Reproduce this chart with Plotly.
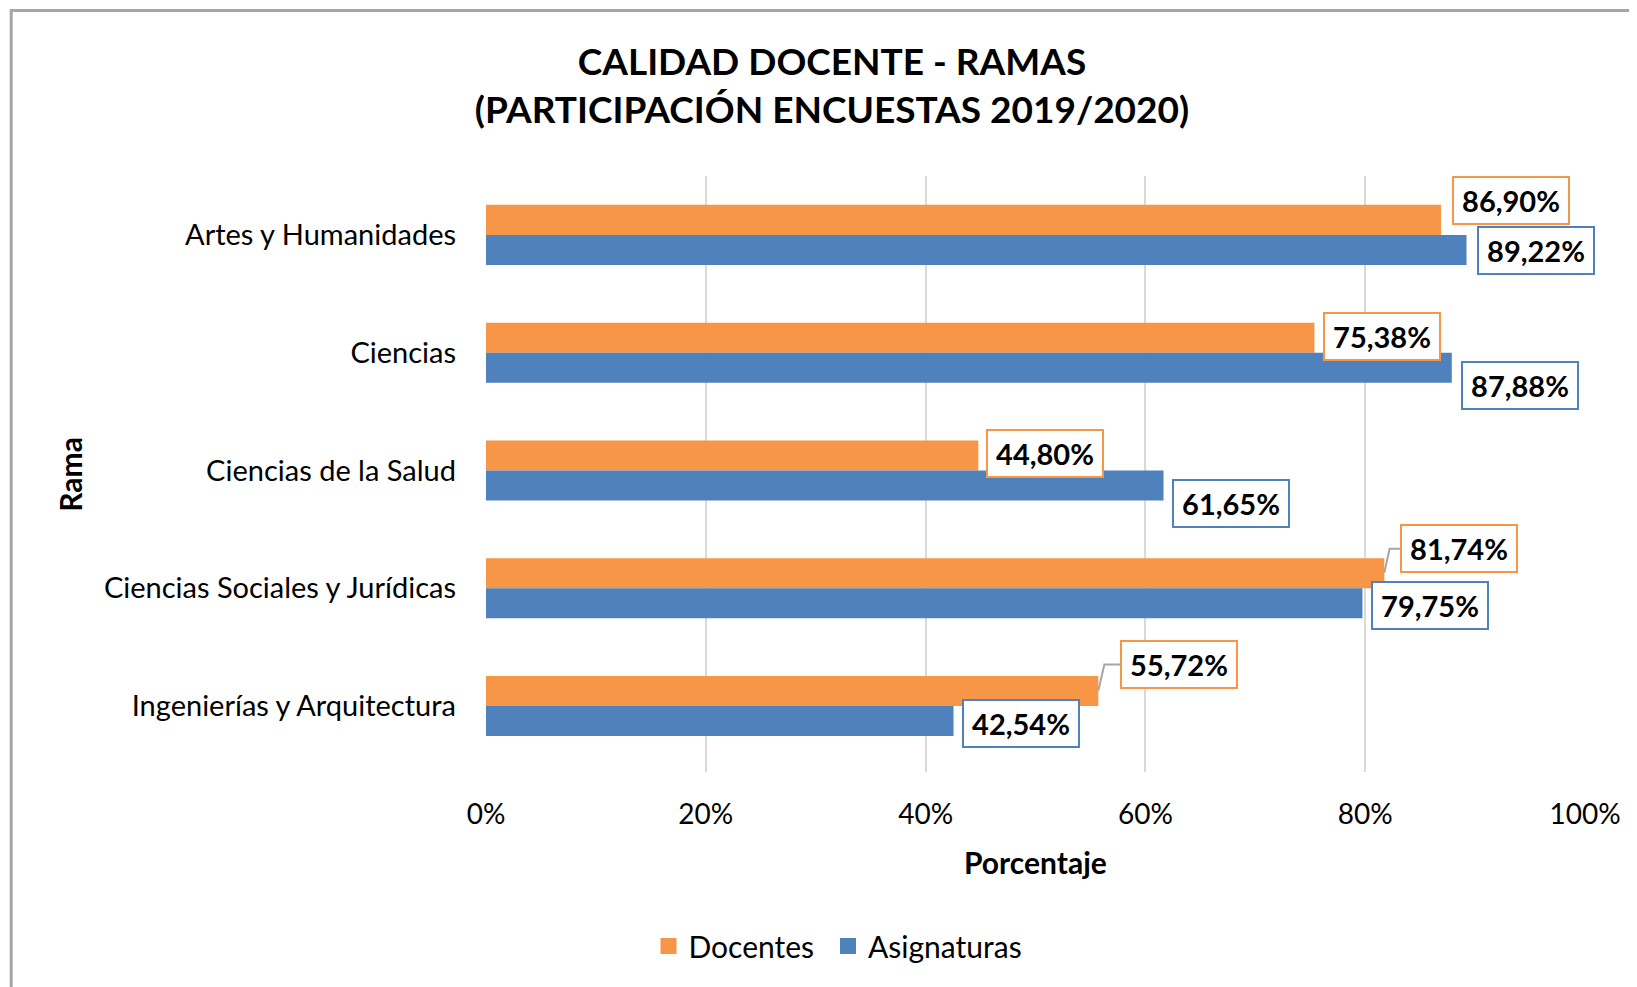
import plotly.graph_objects as go

# ---- data ----
categories = ["Artes y Humanidades", "Ciencias", "Ciencias de la Salud",
              "Ciencias Sociales y Jurídicas", "Ingenierías y Arquitectura"]
docentes = [86.90, 75.38, 44.80, 81.74, 55.72]
asignaturas = [89.22, 87.88, 61.65, 79.75, 42.54]
x_ticks = [0, 20, 40, 60, 80, 100]

title_text = "<b>CALIDAD DOCENTE - RAMAS<br>(PARTICIPACIÓN ENCUESTAS 2019/2020)</b>"

# ---- style ----
ORANGE = "#F79646"
BLUE = "#4F81BD"
FONT = "Lato"
W, H = 1629, 979                    # page has an 8px body margin
L, R, T, B = 477.5, 1577, 168, 764  # plot area in figure pixels
BAR_OFF = 15.5                      # px from category centre to bar centre

# label placement (screen px): dy relative to bar centre (down +), dx gap from bar end
doc_dy = [-19, -1, -1, -24, -26]
doc_dx = [11, 9, 8, 16, 22]
doc_leader = [False, False, False, True, True]
asg_dy = [0, 17, 18, 2, 2]
asg_dx = [10, 9, 8, 9, 8]


def fmt(v):
    return f"{v:.2f}".replace(".", ",") + "%"


fig = go.Figure()
fig.add_trace(go.Bar(name="Docentes", y=categories, x=docentes, orientation="h",
                     marker=dict(color=ORANGE, line=dict(width=0)), showlegend=False))
fig.add_trace(go.Bar(name="Asignaturas", y=categories, x=asignaturas, orientation="h",
                     marker=dict(color=BLUE, line=dict(width=0)), showlegend=False))
# legend entries with larger square swatches (one legend box each, for exact placement)
for name, col, lg in [("Docentes", ORANGE, "legend"), ("Asignaturas", BLUE, "legend2")]:
    fig.add_trace(go.Scatter(name=name, x=[None], y=[None], mode="markers",
                             marker=dict(symbol="square", size=16, color=col),
                             showlegend=True, hoverinfo="skip", legend=lg))

annotations = []
shapes = []


def add_label(cat, val, dy, dx, color, bar_off, leader):
    annotations.append(dict(
        x=val, y=cat, xref="x", yref="y", xanchor="left", yanchor="middle",
        xshift=dx, yshift=-(bar_off + dy), showarrow=False,
        text=f"<b>{fmt(val)}</b>", font=dict(family=FONT, size=29, color="#000"),
        bgcolor="white", bordercolor=color, borderwidth=2, borderpad=0,
        width=114, height=45, align="center", valign="middle"))
    if leader:
        y0 = -bar_off
        y1 = -(bar_off + dy)
        shapes.append(dict(
            type="path", xref="x", yref="y", xsizemode="pixel", ysizemode="pixel",
            xanchor=val, yanchor=cat,
            path=f"M0,{y0} L{min(6, dx/3):.1f},{y1} L{dx},{y1}",
            line=dict(color="#A6A6A6", width=2)))


for i, c in enumerate(categories):
    add_label(c, docentes[i], doc_dy[i], doc_dx[i], ORANGE, -BAR_OFF, doc_leader[i])
    add_label(c, asignaturas[i], asg_dy[i], asg_dx[i], BLUE, BAR_OFF, False)

# axis titles
pw, ph = R - L, B - T
annotations.append(dict(text="<b>Porcentaje</b>", xref="paper", yref="paper",
                        x=0.5, y=(B - 854) / ph, showarrow=False,
                        font=dict(family=FONT, size=30, color="#000"),
                        xanchor="center", yanchor="middle"))
annotations.append(dict(text="<b>Rama</b>", xref="paper", yref="paper",
                        x=(61 - L) / pw, y=(B - 466) / ph, showarrow=False, textangle=-90,
                        font=dict(family=FONT, size=30, color="#000"),
                        xanchor="center", yanchor="middle"))

# outer chart border
shapes.append(dict(type="rect", xref="paper", yref="paper",
                   x0=(2.5 - L) / pw, x1=(W + 20 - L) / pw,
                   y0=(B - (H + 20)) / ph, y1=(B - 2.5) / ph,
                   line=dict(color="#A6A6A6", width=3), layer="below"))

legend_common = dict(orientation="h", xref="container", xanchor="left",
                     y=1 - 938 / H, yref="container", yanchor="middle",
                     font=dict(family=FONT, size=30, color="#000"),
                     itemwidth=30, itemsizing="trace", bgcolor="rgba(0,0,0,0)")

fig.update_layout(
    width=W, height=H,
    margin=dict(l=L, r=W - R, t=T, b=H - B, autoexpand=False),
    paper_bgcolor="white", plot_bgcolor="white",
    barmode="group", bargap=0.49, bargroupgap=0,
    title=dict(text=title_text, x=824 / W, xanchor="center", y=1 - 67 / H, yanchor="middle",
               font=dict(family=FONT, size=37, color="#000")),
    font=dict(family=FONT, size=29, color="#000"),
    showlegend=True,
    legend=dict(x=640.5 / W, **legend_common),
    legend2=dict(x=820 / W, **legend_common),
    annotations=annotations,
    shapes=shapes,
)
fig.update_xaxes(range=[0, 100], tickvals=x_ticks, ticktext=[f"{t}%" for t in x_ticks],
                 showgrid=True, gridcolor="#D9D9D9", gridwidth=2, zeroline=False,
                 showline=False, ticks="", ticklabelstandoff=23,
                 tickfont=dict(family=FONT, size=28, color="#000"))
fig.update_yaxes(autorange="reversed", showgrid=False, zeroline=False, showline=False,
                 ticks="", ticklabelstandoff=29,
                 tickfont=dict(family=FONT, size=29, color="#000"))

fig.write_html("out.html")
